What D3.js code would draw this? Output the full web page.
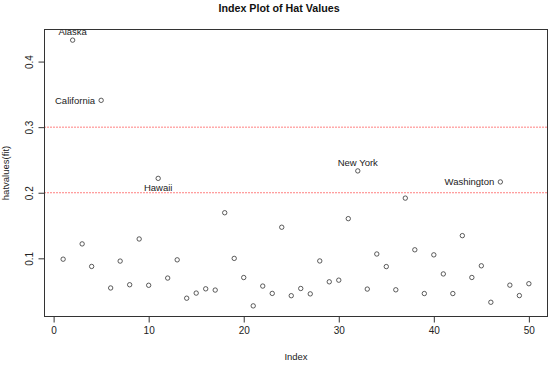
<!DOCTYPE html>
<html><head><meta charset="utf-8">
<script src="https://cdn.jsdelivr.net/npm/d3@7"></script>
<style>body{margin:0;background:#fff}svg{display:block;font-family:"Liberation Sans",Arial,sans-serif}</style>
</head><body><svg id="c" width="553" height="365"></svg>
<script>
const states = ["Alabama","Alaska","Arizona","Arkansas","California","Colorado","Connecticut","Delaware","Florida","Georgia","Hawaii","Idaho","Illinois","Indiana","Iowa","Kansas","Kentucky","Louisiana","Maine","Maryland","Massachusetts","Michigan","Minnesota","Mississippi","Missouri","Montana","Nebraska","Nevada","New Hampshire","New Jersey","New Mexico","New York","North Carolina","North Dakota","Ohio","Oklahoma","Oregon","Pennsylvania","Rhode Island","South Carolina","South Dakota","Tennessee","Texas","Utah","Vermont","Virginia","Washington","West Virginia","Wisconsin","Wyoming"];
const hatValues = [0.0987,0.4327,0.1220,0.0876,0.3409,0.0548,0.0958,0.0597,0.1295,0.0589,0.2219,0.0699,0.0977,0.0392,0.0470,0.0535,0.0516,0.1695,0.0999,0.0707,0.0275,0.0577,0.0465,0.1474,0.0430,0.0540,0.0458,0.0960,0.0642,0.0667,0.1605,0.2333,0.0531,0.1066,0.0874,0.0520,0.1918,0.1130,0.0463,0.1053,0.0762,0.0463,0.1346,0.0708,0.0886,0.0330,0.2165,0.0591,0.0432,0.0613];
const cutoffs = [0.2, 0.3];
const xTicks = [0,10,20,30,40,50];
const yTicks = [0.1,0.2,0.3,0.4];
const labelled = [
  {name:"Alaska", pos:"above"},
  {name:"California", pos:"left"},
  {name:"Hawaii", pos:"below"},
  {name:"New York", pos:"above"},
  {name:"Washington", pos:"left"}
];

const svg = d3.select("#c");
const L=44.5, R=547.5, T=29.5, B=316.5;
const n = hatValues.length;
const xpad = (n-1)*0.04;
const x = d3.scaleLinear().domain([1-xpad, n+xpad]).range([L,R]);
const ext = d3.extent(hatValues);
const ypad = (ext[1]-ext[0])*0.04;
const y = d3.scaleLinear().domain([ext[0]-ypad, ext[1]+ypad]).range([B,T]);
const ink = "#333";

svg.append("defs").append("clipPath").attr("id","plotclip")
  .append("rect").attr("x",L).attr("y",T).attr("width",R-L).attr("height",B-T);

svg.append("text").attr("x",279).attr("y",12).attr("text-anchor","middle")
  .attr("font-weight","bold").attr("font-size","10.7px").attr("fill","#111").text("Index Plot of Hat Values");

// cutoff lines
svg.selectAll("line.cut").data(cutoffs).enter().append("line")
  .attr("x1",L).attr("x2",R).attr("y1",d=>y(d)).attr("y2",d=>y(d))
  .attr("stroke","#f00").attr("stroke-width",1).attr("stroke-dasharray","1,2");

// axes
const xAxis = svg.append("g").attr("transform",`translate(0,${B})`)
  .call(d3.axisBottom(x).tickValues(xTicks).tickSize(6).tickPadding(4).tickFormat(d3.format("d")));
const yAxis = svg.append("g").attr("transform",`translate(${L},0)`)
  .call(d3.axisLeft(y).tickValues(yTicks).tickSize(6).tickPadding(4).tickFormat(d3.format(".1f")));
[xAxis,yAxis].forEach(g=>{
  g.select(".domain").remove();
  g.selectAll(".tick line").attr("stroke",ink);
  g.selectAll(".tick text").attr("fill","#222").attr("font-size","10px").attr("font-family","Liberation Sans, Arial, sans-serif");
});
xAxis.append("line").attr("x1",x(0)).attr("x2",x(50)).attr("y1",0).attr("y2",0).attr("stroke",ink);
yAxis.selectAll(".tick text").attr("text-anchor","middle").attr("dy","0.35em")
  .attr("transform","translate(-15,0) rotate(-90)").attr("y",0).attr("x",0);

// box
svg.append("rect").attr("x",L).attr("y",T).attr("width",R-L).attr("height",B-T)
  .attr("fill","none").attr("stroke",ink).attr("stroke-width",1);

// axis titles
svg.append("text").attr("x",(L+R)/2).attr("y",360).attr("text-anchor","middle")
  .attr("font-size","9.5px").attr("fill","#222").text("Index");
svg.append("text").attr("transform",`translate(9,${(T+B)/2}) rotate(-90)`).attr("text-anchor","middle")
  .attr("font-size","9.5px").attr("fill","#222").text("hatvalues(fit)");

// points
svg.selectAll("circle.pt").data(hatValues).enter().append("circle")
  .attr("cx",(d,i)=>x(i+1)).attr("cy",d=>y(d)).attr("r",2.2)
  .attr("fill","none").attr("stroke",ink).attr("stroke-width",0.8);

// labels (clipped to plot region like R)
const g = svg.append("g").attr("clip-path","url(#plotclip)").attr("font-size","9.5px").attr("fill","#222");
labelled.forEach(l=>{
  const i = states.indexOf(l.name);
  const px = x(i+1), py = y(hatValues[i]);
  const t = g.append("text").text(l.name).attr("dy","0.35em");
  if(l.pos==="above") t.attr("x",px).attr("y",py-8).attr("text-anchor","middle");
  else if(l.pos==="below") t.attr("x",px).attr("y",py+9).attr("text-anchor","middle");
  else t.attr("x",px-6).attr("y",py).attr("text-anchor","end");
});
</script></body></html>
